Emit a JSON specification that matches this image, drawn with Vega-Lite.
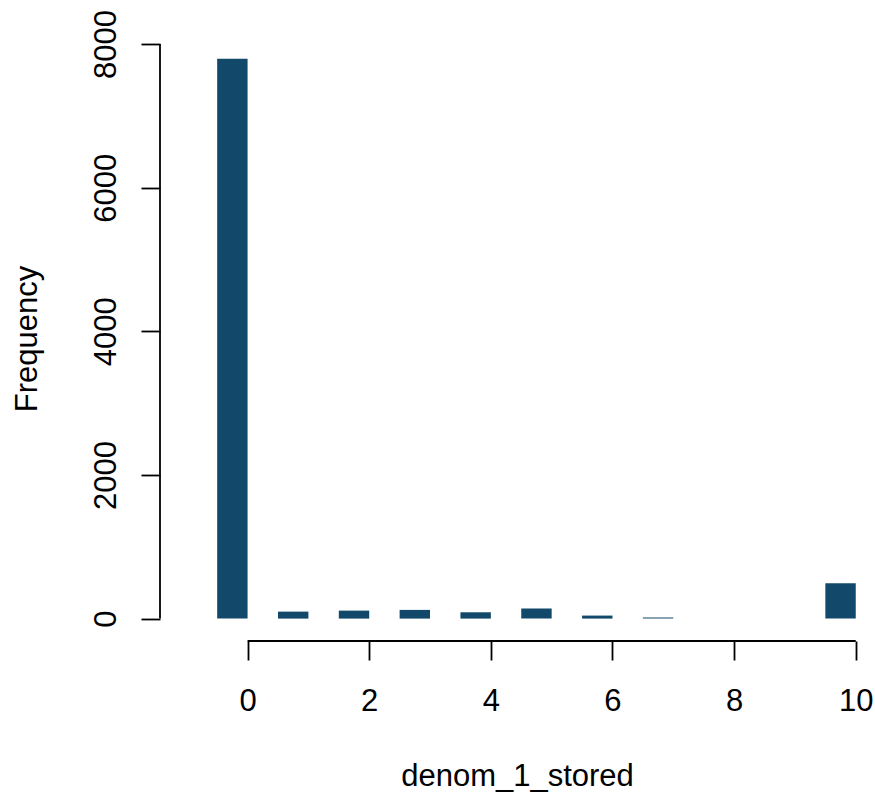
{
  "$schema": "https://vega.github.io/schema/vega-lite/v6.json",
  "width": 714,
  "height": 605,
  "autosize": {"type": "none"},
  "padding": {"left": 160, "top": 36, "right": 1, "bottom": 155},
  "background": "white",
  "config": {
    "view": {"stroke": null},
    "font": "Liberation Sans",
    "axis": {
      "domain": false,
      "grid": false,
      "tickColor": "black",
      "tickWidth": 1.8,
      "tickSize": 19,
      "labelFont": "Liberation Sans",
      "labelFontSize": 31,
      "labelColor": "black",
      "titleFont": "Liberation Sans",
      "titleFontSize": 31,
      "titleFontWeight": "normal",
      "titleColor": "black"
    }
  },
  "datasets": {
    "bins": [
      {"bin_start": -0.5, "bin_end": 0, "count": 7795},
      {"bin_start": 0.5, "bin_end": 1, "count": 97},
      {"bin_start": 1.5, "bin_end": 2, "count": 111},
      {"bin_start": 2.5, "bin_end": 3, "count": 121},
      {"bin_start": 3.5, "bin_end": 4, "count": 88},
      {"bin_start": 4.5, "bin_end": 5, "count": 139},
      {"bin_start": 5.5, "bin_end": 6, "count": 42},
      {"bin_start": 6.5, "bin_end": 7, "count": 14},
      {"bin_start": 9.5, "bin_end": 10, "count": 491}
    ],
    "one": [{"id": 1}]
  },
  "layer": [
    {
      "data": {"name": "bins"},
      "mark": {"type": "rect", "fill": "#12486A"},
      "encoding": {
        "x": {
          "field": "bin_start",
          "type": "quantitative",
          "scale": {"domain": [-1.44, 10.3], "nice": false, "zero": false},
          "axis": {
            "values": [0, 2, 4, 6, 8, 10],
            "format": "d",
            "labelPadding": 26,
            "labelOverlap": false,
            "labelBound": false,
            "title": "denom_1_stored",
            "titlePadding": 45
          }
        },
        "x2": {"field": "bin_end"},
        "y": {
          "field": "count",
          "type": "quantitative",
          "scale": {"domain": [-312, 8112], "nice": false, "zero": false},
          "axis": {
            "values": [0, 2000, 4000, 6000, 8000],
            "format": "d",
            "labelAngle": -90,
            "labelAlign": "center",
            "labelBaseline": "alphabetic",
            "labelPadding": 26,
            "labelOverlap": false,
            "title": "Frequency",
            "titlePadding": 47
          }
        },
        "y2": {"datum": 0}
      }
    },
    {
      "data": {"name": "one"},
      "mark": {"type": "rule", "color": "black", "strokeWidth": 1.8},
      "encoding": {
        "x": {"datum": -1.44},
        "y": {"datum": 0},
        "y2": {"datum": 8000}
      }
    },
    {
      "data": {"name": "one"},
      "mark": {"type": "rule", "color": "black", "strokeWidth": 1.8},
      "encoding": {
        "y": {"datum": -312},
        "x": {"datum": 0},
        "x2": {"datum": 10}
      }
    }
  ]
}
